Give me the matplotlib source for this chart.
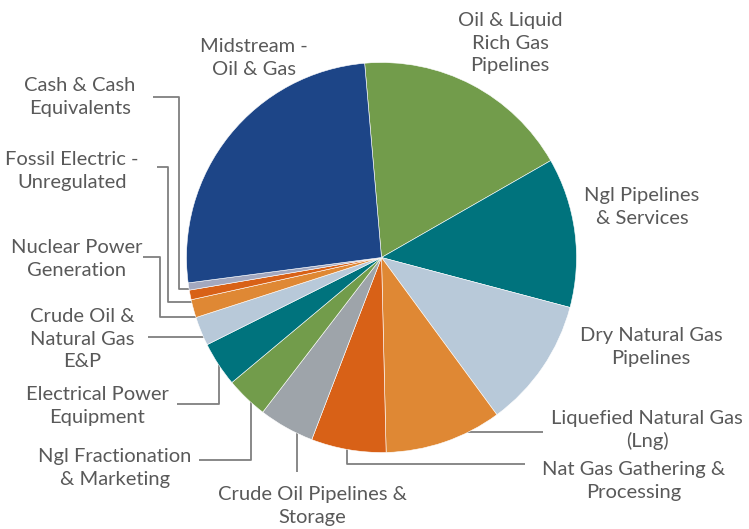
import matplotlib
matplotlib.use("Agg")
import matplotlib.pyplot as plt

# ------------------------------------------------------------------
# data (share of portfolio, %), clockwise from the top
# ------------------------------------------------------------------
categories = [
    "Oil & Liquid\nRich Gas\nPipelines",
    "Ngl Pipelines\n& Services",
    "Dry Natural Gas\nPipelines",
    "Liquefied Natural Gas\n(Lng)",
    "Nat Gas Gathering &\nProcessing",
    "Crude Oil Pipelines &\nStorage",
    "Ngl Fractionation\n& Marketing",
    "Electrical Power\nEquipment",
    "Crude Oil &\nNatural Gas\nE&P",
    "Nuclear Power\nGeneration",
    "Fossil Electric -\nUnregulated",
    "Cash & Cash\nEquivalents",
    "Midstream -\nOil & Gas",
]
values = [18.1, 12.4, 10.8, 9.7, 6.2, 4.6, 3.5, 3.7, 2.4, 1.5, 0.8, 0.6, 25.7]
colors = ["#729c4b", "#00737d", "#b8c9d9", "#df8834", "#d86117", "#9ea4aa",
          "#729c4b", "#00737d", "#b8c9d9", "#df8834", "#d86117", "#a3a8bf",
          "#1d4587"]

# label placement in pixels (x, y from top-left)
label_pos = [
    (510, 43), (642, 207), (651, 347),
    (647, 430), (634, 481), (312, 506),
    (115, 468), (97, 406), (82, 339),
    (77, 259), (72, 171), (80, 97),
    (254, 58),
]

# leader lines in pixels (None = no line)
leaders = [
    None, None, None,
    [(543, 432), (450, 432)],
    [(525, 464), (347, 464), (347, 425)],
    [(297, 472), (297, 420)],
    [(199, 460), (251, 460), (251, 385)],
    [(177, 404), (219, 404), (219, 350)],
    [(148, 337), (215, 337)],
    [(143, 257), (160, 257), (160, 317), (210, 317)],
    [(157, 167), (168, 167), (168, 302), (200, 302)],
    [(153, 97), (179, 97), (179, 289), (200, 289)],
    None,
]

W, H = 749, 529
CX, CY, R = 381.5, 257.5, 195.0


def px(x, y):
    return (x - CX) / R, (CY - y) / R


fig = plt.figure(figsize=(W / 100, H / 100), dpi=100)
ax = fig.add_axes([0, 0, 1, 1])

ax.pie(values, colors=colors, startangle=94.96, counterclock=False,
       radius=1.0, center=(0, 0), frame=True,
       wedgeprops=dict(edgecolor="white", linewidth=0.4, zorder=3))
ax.set_xlim(px(0, 0)[0], px(W, 0)[0])
ax.set_ylim(px(0, H)[1], px(0, 0)[1])
ax.set_aspect("equal")
ax.axis("off")

for path in leaders:
    if path is None:
        continue
    xs, ys = zip(*[px(x, y) for x, y in path])
    ax.plot(xs, ys, color="#7f7f7f", lw=1.3, zorder=1, solid_capstyle="butt")

for lab, (x, y) in zip(categories, label_pos):
    tx, ty = px(x, y)
    ax.text(tx, ty, lab, ha="center", va="center", fontsize=14.5, color="#595959",
            family="Lato", linespacing=1.38)

fig.savefig("out.png", dpi=100)
